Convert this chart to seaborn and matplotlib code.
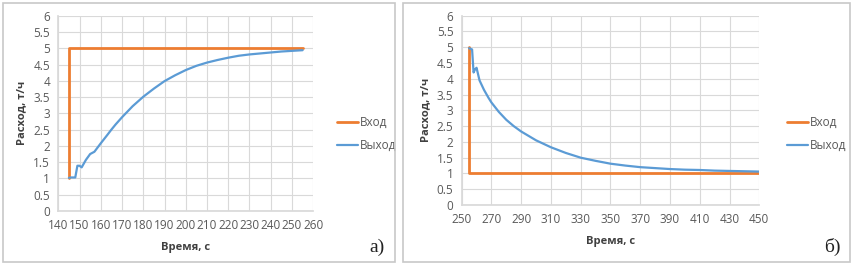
import numpy as np
import pandas as pd
import matplotlib
matplotlib.use('Agg')
from matplotlib import pyplot as plt
from matplotlib.patches import Rectangle
import seaborn as sns

# а) step up 1 -> 5
in_a_t = [145, 145, 255]
in_a_q = [1, 5, 5]
out_a_t = [145, 146, 148, 149, 150, 151, 153, 155, 157, 160, 163, 165, 167, 170,
           175, 180, 185, 190, 195, 200, 205, 210, 215, 220, 225, 230, 235, 240,
           245, 250, 255]
out_a_q = [1.02, 1.03, 1.03, 1.39, 1.39, 1.34, 1.57, 1.75, 1.82, 2.08, 2.33, 2.5,
           2.66, 2.88, 3.22, 3.51, 3.76, 3.99, 4.17, 4.33, 4.46, 4.56, 4.64, 4.71,
           4.77, 4.81, 4.84, 4.87, 4.9, 4.92, 4.94]

# б) step down 5 -> 1
in_b_t = [255, 255, 450]
in_b_q = [5, 1, 1]
out_b_t = [255, 257, 258, 259, 260, 261, 262, 265, 268, 270, 275, 280, 285, 290,
           300, 310, 320, 330, 340, 350, 360, 370, 380, 390, 400, 410, 420, 430,
           440, 450]
out_b_q = [4.97, 4.93, 4.2, 4.3, 4.35, 4.15, 3.95, 3.65, 3.4, 3.25, 2.95, 2.7,
           2.5, 2.33, 2.05, 1.83, 1.65, 1.5, 1.4, 1.31, 1.25, 1.2, 1.17, 1.14,
           1.12, 1.11, 1.09, 1.08, 1.07, 1.06]

sns.set_theme(style='white')
plt.rcParams['font.family'] = ['Open Sans', 'DejaVu Sans']

ORANGE = '#ED7D31'
BLUE = '#5B9BD5'
GRID = '#d9d9d9'
TXT = '#595959'

fig = plt.figure(figsize=(8.57, 2.68), dpi=100)
ax1 = fig.add_axes([0.068, 0.2127, 0.2975, 0.7287])
ax2 = fig.add_axes([0.5387, 0.235, 0.3473, 0.7064])

# panel frames
for x0, x1 in [(3, 395), (403, 850)]:
    fig.add_artist(Rectangle((x0 / 857, 1 - 262 / 268), (x1 - x0) / 857, 259 / 268,
                             transform=fig.transFigure, fill=False,
                             edgecolor='#c8c8c8', lw=1.2))


def draw(ax, it, iq, ot, oq, xlim, xstep):
    sns.lineplot(x=it, y=iq, ax=ax, color=ORANGE, lw=2, sort=False,
                 estimator=None, label='Вход')
    sns.lineplot(x=ot, y=oq, ax=ax, color=BLUE, lw=1.6, sort=False,
                 estimator=None, label='Выход')
    ax.set_xlim(*xlim)
    ax.set_ylim(0, 6)
    ax.set_xticks(np.arange(xlim[0], xlim[1] + 1, xstep))
    ax.set_yticks(np.arange(0, 6.01, 0.5))
    ax.set_yticklabels([f'{v:g}' for v in np.arange(0, 6.01, 0.5)])
    ax.grid(True, color=GRID, lw=0.8)
    ax.set_axisbelow(True)
    for s in ['top', 'right']:
        ax.spines[s].set_visible(False)
    for s in ['left', 'bottom']:
        ax.spines[s].set_color(GRID)
    ax.tick_params(colors=TXT, labelsize=8.5, length=0, pad=6)
    ax.set_xlabel('Время, с', fontsize=8, fontweight='bold', color='#404040', labelpad=7)
    ax.set_ylabel('Расход, т/ч', fontsize=8, fontweight='bold', color='#404040', labelpad=4)


draw(ax1, in_a_t, in_a_q, out_a_t, out_a_q, (140, 260), 10)
draw(ax2, in_b_t, in_b_q, out_b_t, out_b_q, (250, 450), 20)

ax1.legend(loc='center left', bbox_to_anchor=(326 / 857, 1 - 134 / 268),
           bbox_transform=fig.transFigure, frameon=False, fontsize=8.5,
           labelcolor=TXT, handlelength=1.8, handletextpad=0.2, labelspacing=0.8)
ax2.legend(loc='center left', bbox_to_anchor=(776 / 857, 1 - 134 / 268),
           bbox_transform=fig.transFigure, frameon=False, fontsize=8.5,
           labelcolor=TXT, handlelength=1.8, handletextpad=0.2, labelspacing=0.8)

fig.text(377 / 857, 1 - 247 / 268, 'а)', family='Liberation Serif', fontsize=14,
         ha='center', va='center', color='#222222')
fig.text(832 / 857, 1 - 247 / 268, 'б)', family='Liberation Serif', fontsize=14,
         ha='center', va='center', color='#222222')

fig.savefig('out.png', dpi=100)
